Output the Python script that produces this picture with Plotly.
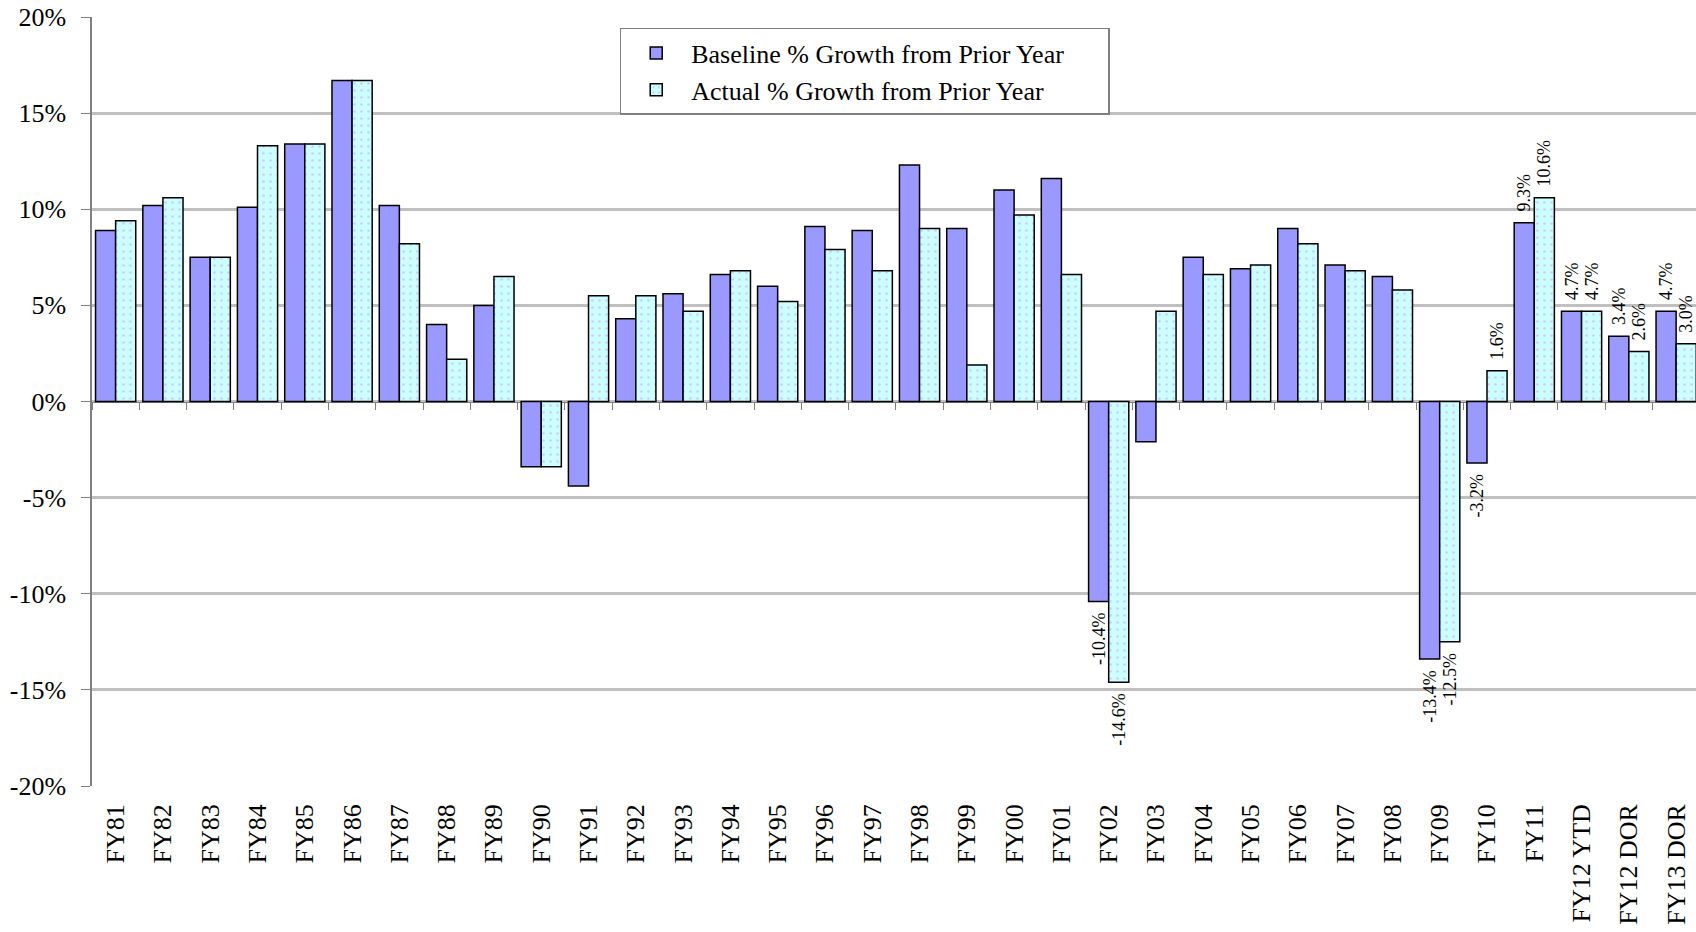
import plotly.graph_objects as go

categories = ["FY81", "FY82", "FY83", "FY84", "FY85", "FY86", "FY87", "FY88", "FY89", "FY90",
              "FY91", "FY92", "FY93", "FY94", "FY95", "FY96", "FY97", "FY98", "FY99", "FY00",
              "FY01", "FY02", "FY03", "FY04", "FY05", "FY06", "FY07", "FY08", "FY09", "FY10",
              "FY11", "FY12 YTD", "FY12 DOR", "FY13 DOR"]

baseline = [8.9, 10.2, 7.5, 10.1, 13.4, 16.7, 10.2, 4.0, 5.0, -3.4,
            -4.4, 4.3, 5.6, 6.6, 6.0, 9.1, 8.9, 12.3, 9.0, 11.0,
            11.6, -10.4, -2.1, 7.5, 6.9, 9.0, 7.1, 6.5, -13.4, -3.2,
            9.3, 4.7, 3.4, 4.7]

actual = [9.4, 10.6, 7.5, 13.3, 13.4, 16.7, 8.2, 2.2, 6.5, -3.4,
          5.5, 5.5, 4.7, 6.8, 5.2, 7.9, 6.8, 9.0, 1.9, 9.7,
          6.6, -14.6, 4.7, 6.6, 7.1, 8.2, 6.8, 5.8, -12.5, 1.6,
          10.6, 4.7, 2.6, 3.0]

labeled = ["FY02", "FY09", "FY10", "FY11", "FY12 YTD", "FY12 DOR", "FY13 DOR"]

y_tickvals = [-20, -15, -10, -5, 0, 5, 10, 15, 20]
y_ticktext = ["-20%", "-15%", "-10%", "-5%", "0%", "5%", "10%", "15%", "20%"]

FONT = "Liberation Serif, Times New Roman, serif"
PAD = "\u00a0\u2009"   # small gap between bar end and rotated label
LEG_PAD = "\u00a0" * 6


def labels(values):
    out = []
    for c, v in zip(categories, values):
        if c not in labeled:
            out.append("")
        elif v >= 0:
            out.append(PAD + f"{v:.1f}%")
        else:
            out.append(f"{v:.1f}%" + PAD)
    return out


fig = go.Figure()
fig.add_trace(go.Bar(
    x=categories, y=baseline, name="Baseline % Growth from Prior Year" + LEG_PAD,
    legendgroup="a",
    marker=dict(color="#9999FF", line=dict(color="black", width=1.5)),
    text=labels(baseline), textposition="outside", textangle=-90,
    constraintext="none", cliponaxis=False,
    textfont=dict(family=FONT, size=18, color="black"),
))
fig.add_trace(go.Bar(
    x=categories, y=actual, name="Actual % Growth from Prior Year" + LEG_PAD,
    legendgroup="b",
    marker=dict(color="#CCFFFF", line=dict(color="black", width=1.5),
                pattern=dict(shape=".", bgcolor="#CCFFFF", fgcolor="#CC99FF",
                             size=7, solidity=0.12)),
    text=labels(actual), textposition="outside", textangle=-90,
    constraintext="none", cliponaxis=False,
    textfont=dict(family=FONT, size=18, color="black"),
))
# helper trace so the zero-line category axis knows its categories
fig.add_trace(go.Scatter(
    x=categories, y=[0] * len(categories), xaxis="x2", mode="markers",
    marker=dict(opacity=0), showlegend=False, hoverinfo="skip",
))

xr = [-0.5, 33.42]
fig.update_layout(
    width=1696, height=932,
    margin=dict(l=92, r=0, t=17, b=146),
    paper_bgcolor="white", plot_bgcolor="white",
    barmode="group", bargap=0.15, bargroupgap=0,
    font=dict(family=FONT, color="black"),
    xaxis=dict(
        type="category", categoryorder="array", categoryarray=categories,
        range=xr, tickangle=-90, showgrid=False, showline=False, ticks="",
        tickfont=dict(family=FONT, size=26, color="black"),
        ticklabelstandoff=12,
    ),
    xaxis2=dict(
        type="category", categoryorder="array", categoryarray=categories,
        range=xr, overlaying="x", anchor="free", position=0.5,
        showline=True, linecolor="#808080", linewidth=1,
        ticks="outside", ticklen=7, tickcolor="#808080", tickwidth=1,
        tickson="boundaries", showticklabels=False, showgrid=False,
        layer="below traces",
    ),
    yaxis=dict(
        range=[-20, 20], tickvals=y_tickvals, ticktext=y_ticktext,
        showgrid=True, gridcolor="#C0C0C0", gridwidth=2.5, zeroline=False,
        showline=True, linecolor="#808080", linewidth=1.5,
        ticks="outside", ticklen=9, tickcolor="#808080",
        tickfont=dict(family=FONT, size=26, color="black"),
        ticklabelstandoff=10,
    ),
    legend=dict(
        x=0.329, y=0.9857, xanchor="left", yanchor="top",
        bgcolor="white", bordercolor="#808080", borderwidth=1.5,
        font=dict(family=FONT, size=26, color="black"),
        traceorder="grouped", tracegroupgap=0, itemwidth=60,
    ),
    showlegend=True,
)

fig.write_html("out.html", config={"displayModeBar": False},
               post_script="document.body.style.margin='0';")
